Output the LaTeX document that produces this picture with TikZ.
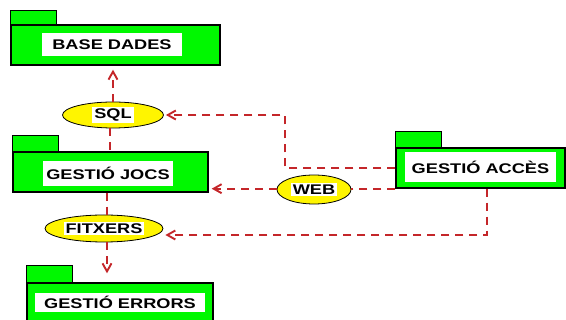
\documentclass[tikz,border=0pt]{standalone}
\usepackage{fontspec}
\setmainfont{Liberation Sans}
\newfontfamily\pkgfont{Liberation Sans}[FakeStretch=1.3]
\usetikzlibrary{arrows.meta,shapes.geometric}

\definecolor{pkggreen}{RGB}{0,248,0}
\definecolor{ifyellow}{RGB}{255,245,0}
\definecolor{depred}{RGB}{196,38,42}

\begin{document}
\begin{tikzpicture}[x=1pt,y=-1pt,
  txt/.style={font=\pkgfont\bfseries\fontsize{14}{16}\selectfont},
  pkgbody/.style={draw=black, line width=1.4pt, fill=pkggreen, inner sep=0pt},
  pkgtab/.style={draw=black, line width=1.4pt, fill=pkggreen},
  pkglabel/.style={txt, fill=white, inner sep=0pt},
  iface/.style={ellipse, draw=black, line width=0.8pt, fill=ifyellow, inner sep=0pt},
  ifacelabel/.style={txt, fill=white, inner xsep=2pt, inner ysep=2pt},
  dep/.style={draw=depred, line width=1.9pt, dash pattern=on 8pt off 6pt},
  deparrow/.style={dep, -{Straight Barb[length=8pt,width=9pt]}}
]
\useasboundingbox (0,0) rectangle (566,320);

% packages: body, tab and white title box
\node[pkgbody, minimum width=209pt, minimum height=40pt] (base) at (115.5,45) {};
\draw[pkgtab] (base.north west) rectangle ++(46,-14);
\node[pkglabel, minimum width=140pt, minimum height=23pt] (basetxt) at (112,44.5) {BASE DADES};

\node[pkgbody, minimum width=195pt, minimum height=40pt] (jocs) at (110.5,172) {};
\draw[pkgtab] (jocs.north west) rectangle ++(46,-16);
\node[pkglabel, minimum width=130pt, minimum height=25pt] (jocstxt) at (108,173.5) {GESTIÓ JOCS};

\node[pkgbody, minimum width=186pt, minimum height=47pt] (errors) at (120,306.5) {};
\draw[pkgtab] (errors.north west) rectangle ++(46,-17);
\node[pkglabel, minimum width=170pt, minimum height=19pt] (errorstxt) at (120,302.5) {GESTIÓ ERRORS};

\node[pkgbody, minimum width=169pt, minimum height=40pt] (acces) at (480.5,168) {};
\draw[pkgtab] (acces.north west) rectangle ++(46,-16);
\node[pkglabel, minimum width=151pt, minimum height=30pt] (accestxt) at (480.5,167) {GESTIÓ ACCÈS};

% interfaces
\node[iface, minimum width=101pt, minimum height=26pt] (sql) at (113,115) {};
\node[ifacelabel] (sqltxt) at (sql.center) {SQL};

\node[iface, minimum width=118pt, minimum height=27pt] (fitx) at (104,228.5) {};
\node[ifacelabel] (fitxtxt) at (fitx.center) {FITXERS};

\node[iface, minimum width=74pt, minimum height=29pt] (web) at (314,189.5) {};
\node[ifacelabel] (webtxt) at (web.center) {WEB};

% dependencies
\coordinate (colx) at (107,0);
\coordinate (c5) at (285,115);
\coordinate (c7) at (487,235);

\draw[deparrow, shorten >=4pt] (sql.north) -- (sql.north |- base.south);
\draw[dep] ([xshift=-3pt]sql.south) -- ([xshift=-3pt]sql.south |- jocs.north);
\draw[dep] (colx |- jocs.south) -- (colx |- fitx.north);
\draw[deparrow, shorten >=9pt] (colx |- fitx.south) -- (colx |- errors.north);

\draw[deparrow, shorten >=2pt] (acces.west) -| (c5) -- (c5 -| sql.east);
\draw[dep] (acces.south west) -- (acces.south west -| web.east);
\draw[deparrow, shorten >=3pt] (web.west |- acces.south west) -- (acces.south west -| jocs.east);
\draw[deparrow, shorten >=2pt] (c7 |- acces.south) -- (c7) -- (c7 -| fitx.east);
\end{tikzpicture}
\end{document}
